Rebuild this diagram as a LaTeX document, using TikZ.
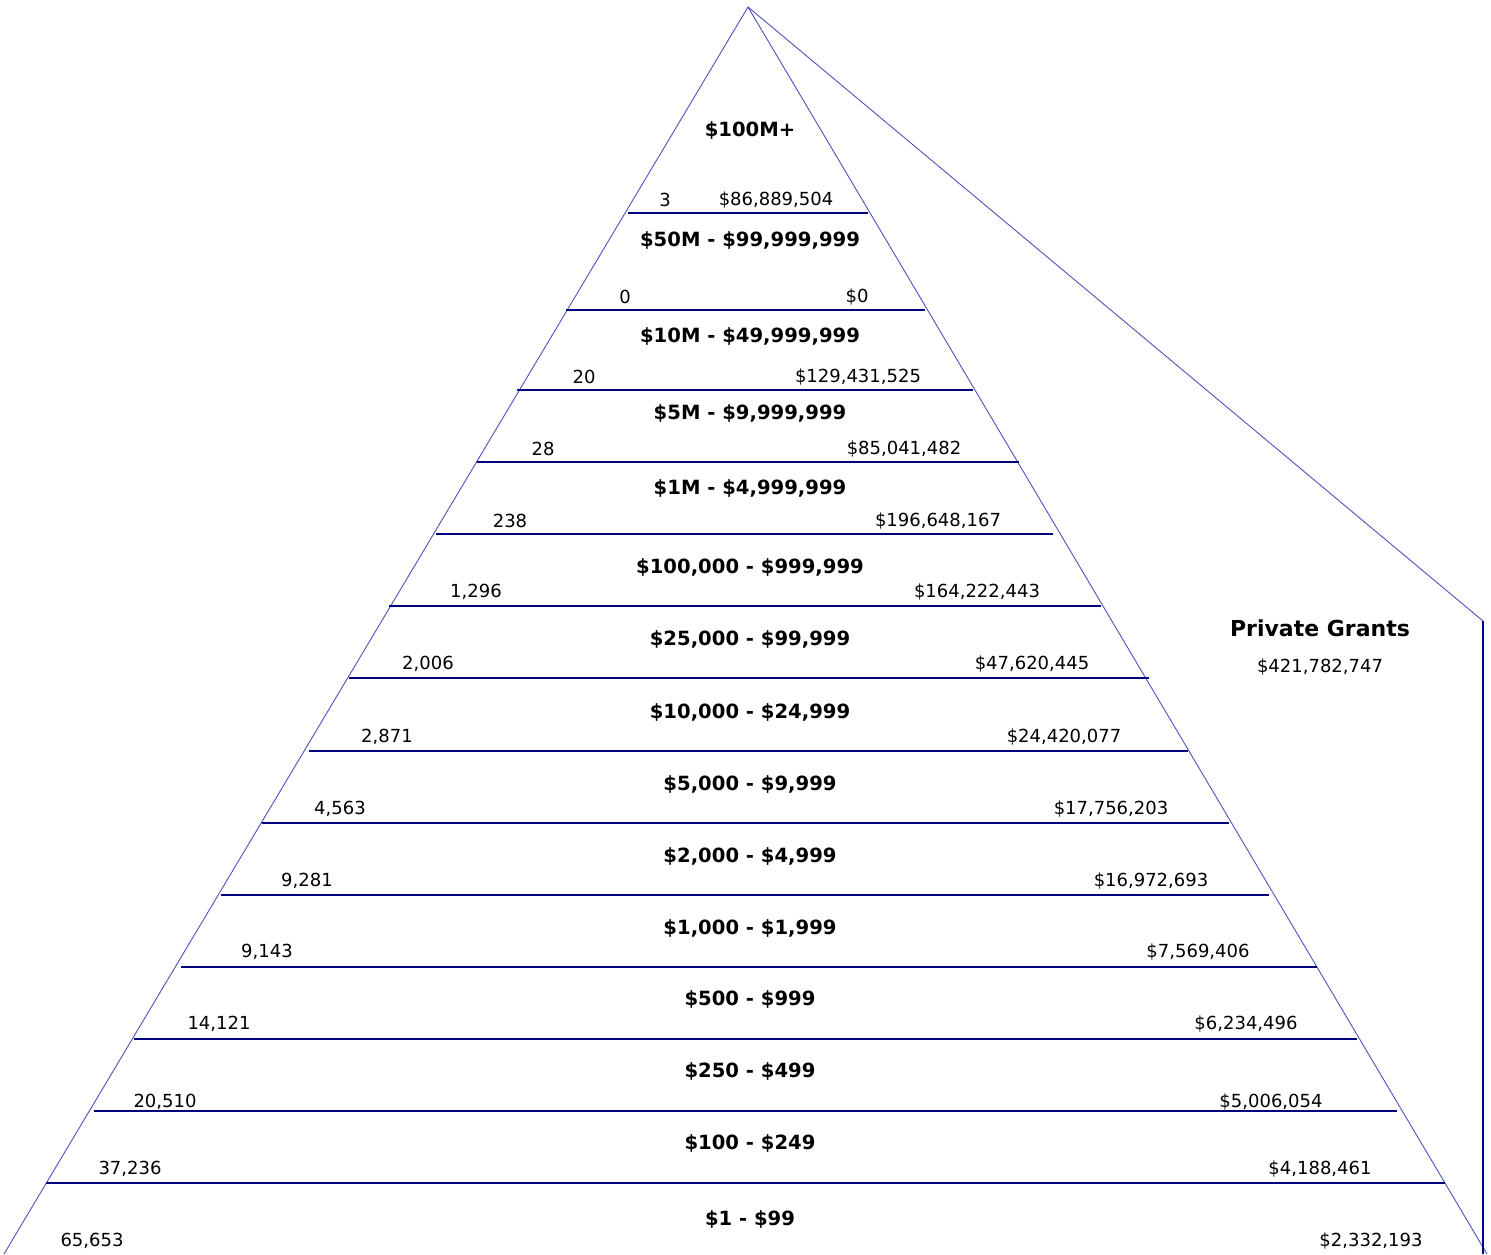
\documentclass[tikz,border=0pt]{standalone}
\usepackage{fontspec}
\setmainfont{DejaVu Sans}
\usepackage{tikz}
\usetikzlibrary{positioning,calc}
\definecolor{Navy}{RGB}{0,0,128}
\definecolor{EdgeBlue}{RGB}{80,80,190}

\begin{document}
\begin{tikzpicture}[x=0.5pt,y=-0.5pt,
    band/.style={font=\bfseries\fontsize{9.8pt}{11pt}\selectfont},
    figure/.style={font=\fontsize{9pt}{11pt}\selectfont},
    edge/.style={EdgeBlue,line width=0.45pt},
    rung/.style={Navy,line width=0.8pt}]
    \useasboundingbox (0,0) rectangle (1491,1254);

    % pyramid outline
    \coordinate (apex) at (748,7);
    \coordinate (foot left) at (4,1254);
    \coordinate (foot right) at (1487,1254);
    \coordinate (elbow) at (1483,621);
    \coordinate (floor) at (1483,1254);
    \draw[edge] (foot left) -- (apex) -- (foot right);
    \draw[edge] (apex) -- (elbow);
    \draw[rung] (elbow) -- (floor);

    % horizontal dividers
    \foreach \y/\xa/\xb [count=\i] in {213/628/868, 310/566/925, 390/517/973,
        462/477/1019, 534/436/1053, 606/389/1101, 678/349/1149, 751/309/1188,
        823/262/1229, 895/221/1269, 967/181/1317, 1039/134/1357,
        1111/94/1397, 1183/46/1445}
    {
        \coordinate (rung\i west) at (\xa,\y);
        \coordinate (rung\i east) at (\xb,\y);
        \draw[rung] (rung\i west) -- (rung\i east);
    }

    % gift ranges
    \foreach \y/\lab [count=\i] in {130/{\$100M+}, 240/{\$50M - \$99,999,999},
        336/{\$10M - \$49,999,999}, 413/{\$5M - \$9,999,999},
        488/{\$1M - \$4,999,999}, 567/{\$100,000 - \$999,999},
        639/{\$25,000 - \$99,999}, 712/{\$10,000 - \$24,999},
        784/{\$5,000 - \$9,999}, 856/{\$2,000 - \$4,999},
        928/{\$1,000 - \$1,999}, 999/{\$500 - \$999}, 1071/{\$250 - \$499},
        1143/{\$100 - \$249}, 1219/{\$1 - \$99}}
    {
        \node[band] (range\i) at (750,\y) {\lab};
    }

    % number of grants
    \foreach \x/\y/\lab [count=\i] in {665/200/3, 625/297/0, 584/377/20,
        543/449/28, 510/521/238, 476/592/{1,296}, 428/664/{2,006},
        387/737/{2,871}, 340/809/{4,563}, 307/881/{9,281}, 267/952/{9,143},
        219/1024/{14,121}, 165/1102/{20,510}, 130/1169/{37,236},
        92/1241/{65,653}}
    {
        \node[figure] (count\i) at (\x,\y) {\lab};
    }

    % grant totals
    \foreach \x/\y/\lab [count=\i] in {776/200/{\$86,889,504}, 857/297/{\$0},
        858/377/{\$129,431,525}, 904/449/{\$85,041,482},
        938/521/{\$196,648,167}, 977/592/{\$164,222,443},
        1032/664/{\$47,620,445}, 1064/737/{\$24,420,077},
        1111/809/{\$17,756,203}, 1151/881/{\$16,972,693},
        1198/952/{\$7,569,406}, 1246/1024/{\$6,234,496},
        1271/1102/{\$5,006,054}, 1320/1169/{\$4,188,461},
        1371/1241/{\$2,332,193}}
    {
        \node[figure] (total\i) at (\x,\y) {\lab};
    }

    \node[font=\bfseries\fontsize{11pt}{13pt}\selectfont] (grants) at (1320,628) {Private Grants};
    \node[figure, below=4pt of grants] (grand total) {\$421,782,747};
\end{tikzpicture}
\end{document}
